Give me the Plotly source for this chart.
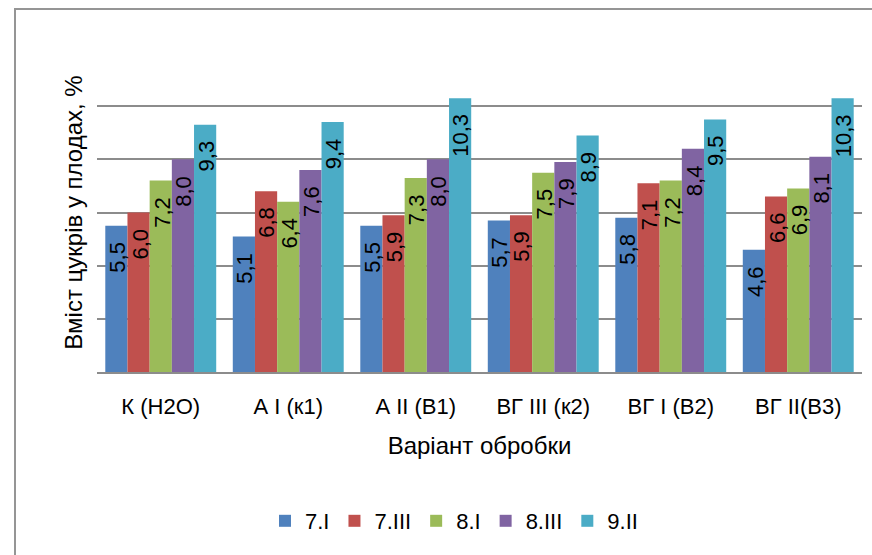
import plotly.graph_objects as go

# Treatment variants (x categories)
categories = ["К (H2O)", "А I (к1)", "А II (В1)", "ВГ III (к2)", "ВГ I (В2)", "ВГ II(В3)"]

# Sampling dates (series)
series_names = ["7.I", "7.III", "8.I", "8.III", "9.II"]

# Sugar content in fruit, %
vals_7_I = [5.5, 5.1, 5.5, 5.7, 5.8, 4.6]
vals_7_III = [6.0, 6.8, 5.9, 5.9, 7.1, 6.6]
vals_8_I = [7.2, 6.4, 7.3, 7.5, 7.2, 6.9]
vals_8_III = [8.0, 7.6, 8.0, 7.9, 8.4, 8.1]
vals_9_II = [9.3, 9.4, 10.3, 8.9, 9.5, 10.3]

series_values = [vals_7_I, vals_7_III, vals_8_I, vals_8_III, vals_9_II]
colors = ["#4F81BD", "#C0504D", "#9BBB59", "#8064A2", "#4BACC6"]

FONT = "Liberation Sans"
FS = 22
FS_TITLE = 24
W, H = 872, 555
ML, MR, MT, MB = 97, 10, 53, 183
BARGAP = 0.13

fig = go.Figure()
for name, vals, col in zip(series_names, series_values, colors):
    fig.add_trace(go.Bar(
        name=name, x=categories, y=vals,
        marker=dict(color=col, line=dict(width=0)),
    ))

# rotated value labels just below the top of each bar
plot_w = W - ML - MR
bar_w = plot_w / len(categories) * (1 - BARGAP) / len(series_names)
annotations = []
for i, vals in enumerate(series_values):
    off = (i - (len(series_names) - 1) / 2) * bar_w
    for cat, v in zip(categories, vals):
        annotations.append(dict(
            x=cat, y=v, xref="x", yref="y",
            text=f"{v:.1f}".replace(".", ","),
            showarrow=False, textangle=-90,
            xanchor="center", yanchor="top",
            xshift=off + 1, yshift=-14,
            font=dict(family=FONT, size=FS, color="#000000"),
        ))

plot_h = H - MT - MB
def px_x(p):
    return (p - ML) / plot_w
def px_y(p):
    return (H - MB - p) / plot_h

# outer chart frame
shapes = [dict(
    type="rect", xref="paper", yref="paper",
    x0=px_x(15), x1=px_x(890), y0=px_y(580), y1=px_y(9),
    line=dict(color="#959595", width=2), fillcolor="rgba(0,0,0,0)",
    layer="below",
)]

fig.update_layout(
    width=W, height=H,
    margin=dict(l=ML, r=MR, t=MT, b=MB),
    paper_bgcolor="white", plot_bgcolor="white",
    barmode="group", bargap=BARGAP, bargroupgap=0,
    font=dict(family=FONT, size=FS, color="#000000"),
    showlegend=True,
    legend=dict(
        orientation="h", x=px_x(454), xanchor="center",
        y=px_y(521), yanchor="middle",
        font=dict(family=FONT, size=FS), itemwidth=30,
        traceorder="normal",
    ),
    annotations=annotations,
    shapes=shapes,
    xaxis=dict(
        showline=True, linecolor="#8C8C8C", linewidth=2,
        ticks="", showgrid=False, zeroline=False,
        tickfont=dict(family=FONT, size=FS),
        ticklabelstandoff=14,
        title=dict(text="Варіант обробки", font=dict(family=FONT, size=FS_TITLE), standoff=19),
    ),
    yaxis=dict(
        range=[0, 12], dtick=2, showticklabels=False, ticks="",
        showgrid=True, gridcolor="#8C8C8C", gridwidth=1.5,
        zeroline=False, showline=False,
        title=dict(text="Вміст цукрів у плодах, %", font=dict(family=FONT, size=FS_TITLE), standoff=6),
    ),
)

fig.write_html("out.html")
